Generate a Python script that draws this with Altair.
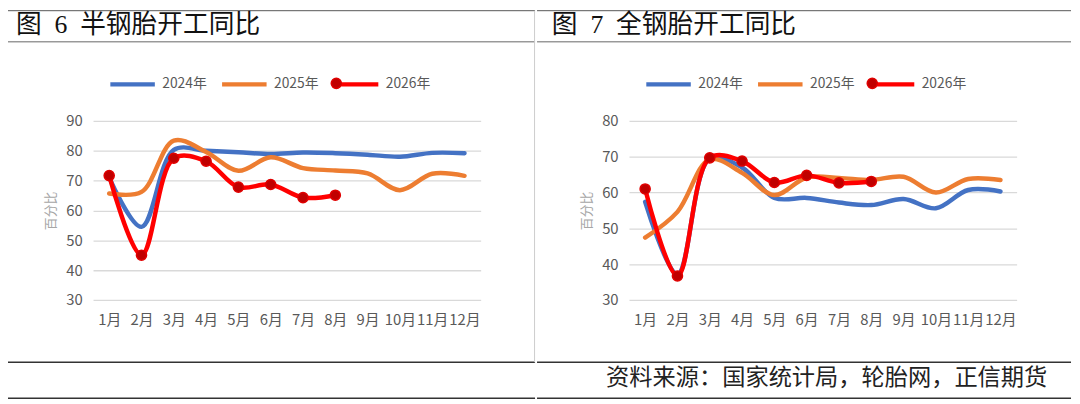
import altair as alt
import pandas as pd

months = ["1月", "2月", "3月", "4月", "5月", "6月", "7月", "8月", "9月", "10月", "11月", "12月"]
years = ["2024年", "2025年", "2026年"]
colors = ["#4472C4", "#ED7D31", "#FF0000"]

# 图6 半钢胎开工同比 (百分比)
semi_2024 = [71.0, 54.5, 80.3, 80.0, 79.5, 78.9, 79.4, 79.2, 78.7, 78.0, 79.3, 79.2]
semi_2025 = [65.7, 66.2, 83.4, 79.6, 73.3, 77.8, 74.2, 73.4, 72.4, 66.8, 72.3, 71.6]
semi_2026 = [71.7, 45.0, 77.5, 76.5, 67.8, 68.7, 64.3, 65.1]

# 图7 全钢胎开工同比 (百分比)
all_2024 = [57.4, 37.2, 69.5, 67.0, 58.5, 58.5, 57.2, 56.5, 58.2, 55.6, 60.7, 60.3]
all_2025 = [47.4, 54.6, 69.3, 65.5, 59.3, 64.2, 64.1, 63.5, 64.4, 60.0, 63.8, 63.5]
all_2026 = [61.0, 36.7, 69.7, 68.8, 62.8, 64.8, 62.7, 63.1]

NB = "\u00a0\u00a0"
titles = ["图" + NB + "6" + NB + "半钢胎开工同比", "图" + NB + "7" + NB + "全钢胎开工同比"]
y_title = "百分比"
source_text = "资料来源：国家统计局，轮胎网，正信期货"

FONT = "Noto Sans CJK SC"
TITLE_FONT = "Liberation Serif, Noto Sans CJK SC"
LABEL = "#595959"


def one(d):
    return alt.Chart(pd.DataFrame(d))


def panel(title, s24, s25, s26, ymin, ymax, is_left):
    rows = []
    for yr, series in zip(years, [s24, s25, s26]):
        for m, v in zip(months, series):
            rows.append({"month": m, "year": yr, "value": v})
    df = pd.DataFrame(rows)

    x = alt.X(
        "month:O",
        sort=months,
        scale=alt.Scale(domain=months, padding=0.5),
        axis=alt.Axis(
            title=None, labelAngle=0, labelFontSize=15, labelColor=LABEL,
            labelPadding=13, tickSize=0, ticks=False, domain=False, grid=False,
            labelOverlap=False, labelFont=FONT,
        ),
    )
    y = alt.Y(
        "value:Q",
        scale=alt.Scale(domain=[ymin, ymax], nice=False, zero=False),
        axis=alt.Axis(
            title=y_title, values=list(range(ymin, ymax + 1, 10)),
            labelFontSize=15, labelColor=LABEL, labelPadding=11, tickSize=0,
            ticks=False, domain=False, grid=True, gridColor="#D9D9D9",
            gridWidth=1.3, titleColor="#A6A6A6", titleFontSize=13,
            titleFontWeight="normal", titlePadding=8, labelFont=FONT,
            titleFont=FONT,
        ),
    )

    line_legend = alt.Legend(
        title=None, orient="none", legendX=15, legendY=-62,
        direction="horizontal", symbolType="stroke", symbolSize=2025,
        symbolStrokeWidth=5, labelFontSize=14, labelColor=LABEL,
        labelOffset=5, columnPadding=5, labelFont=FONT,
    )

    lines = alt.Chart(df).mark_line(
        interpolate="catmull-rom", strokeCap="round", strokeJoin="round"
    ).encode(
        x=x,
        y=y,
        color=alt.Color("year:N", scale=alt.Scale(domain=years, range=colors), legend=line_legend),
        strokeWidth=alt.StrokeWidth("year:N", scale=alt.Scale(domain=years, range=[4.5, 4.5, 5]), legend=None),
    )

    dot_legend = alt.Legend(
        title=None, orient="none", legendX=240, legendY=-44,
        symbolType="circle", symbolSize=105, symbolStrokeColor="#E00000",
        symbolStrokeWidth=1.5, symbolOpacity=1, labelExpr="''", labelFontSize=1,
        labelOffset=0,
    )

    pts = alt.Chart(df[df["year"] == "2026年"]).mark_circle(
        size=105, opacity=1, stroke="#E00000", strokeWidth=1.5
    ).encode(
        x=x, y=y,
        fill=alt.Fill("year:N", scale=alt.Scale(domain=["2026年"], range=["#C00000"]), legend=dot_legend),
    )

    layers = [lines, pts]

    # frame lines (first one pins the layout bounds; it falls in the page margin)
    layers.append(one({"a": [0]}).mark_rule(color="#FFFFFF", strokeWidth=1).encode(
        x=alt.value(-93), x2=alt.value(447), y=alt.value(-117.5)))
    layers.append(one({"a": [0]}).mark_rule(color="#555555", strokeWidth=1).encode(
        x=alt.value(-93), x2=alt.value(447), y=alt.value(-111.5)))
    layers.append(one({"a": [0]}).mark_rule(color="#666666", strokeWidth=1).encode(
        x=alt.value(-93), x2=alt.value(447), y=alt.value(-80)))
    layers.append(one({"a": [0]}).mark_rule(color="#333333", strokeWidth=1.5).encode(
        x=alt.value(-93), x2=alt.value(447), y=alt.value(244)))
    layers.append(one({"a": [0]}).mark_rule(color="#333333", strokeWidth=1.5).encode(
        x=alt.value(-93), x2=alt.value(447), y=alt.value(280.5)))
    if is_left:
        layers.append(one({"a": [0]}).mark_rule(color="#CCCCCC", strokeWidth=1).encode(
            x=alt.value(446.5), y=alt.value(-111.5), y2=alt.value(244)))

    layers.append(one({"t": [title]}).mark_text(
        align="left", baseline="middle", fontSize=26, font=TITLE_FONT, color="#111111"
    ).encode(x=alt.value(-78), y=alt.value(-97), text="t:N"))

    if not is_left:
        layers.append(one({"t": [source_text]}).mark_text(
            align="right", baseline="middle", fontSize=23.5, font=FONT, color="#222222"
        ).encode(x=alt.value(423), y=alt.value(260), text="t:N"))

    return alt.layer(*layers).properties(width=392, height=181)


left = panel(titles[0], semi_2024, semi_2025, semi_2026, 30, 90, True)
right = panel(titles[1], all_2024, all_2025, all_2026, 30, 80, False)

chart = alt.hconcat(left, right, spacing=0).resolve_scale(
    color="independent", y="independent", x="independent",
    strokeWidth="independent", fill="independent"
).resolve_legend(color="independent", fill="independent").properties(
    padding={"left": -8, "top": -6, "right": 0, "bottom": 0}, background="white"
).configure_view(stroke=None)

chart.save("out.html", embed_options={"renderer": "svg", "actions": False})
